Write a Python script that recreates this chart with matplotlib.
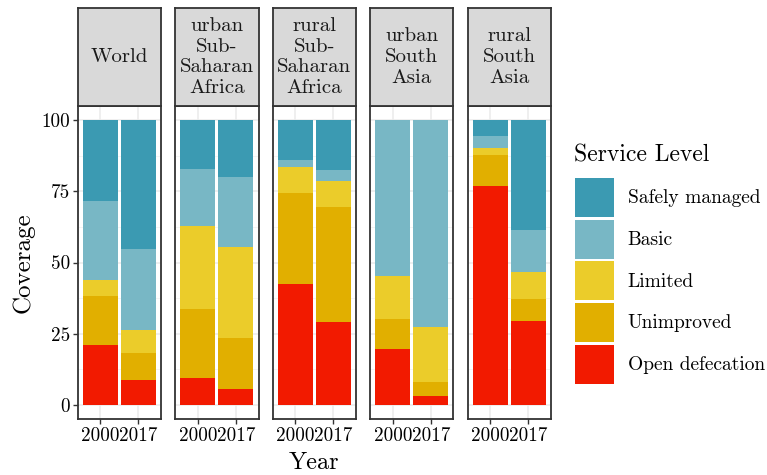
import matplotlib
matplotlib.use("Agg")
import matplotlib.pyplot as plt
from matplotlib.patches import Patch
import numpy as np

plt.rcParams['font.family'] = ['cmr10', 'DejaVu Serif']
plt.rcParams['axes.formatter.use_mathtext'] = True

regions = ['World', 'urban\nSub-\nSaharan\nAfrica', 'rural\nSub-\nSaharan\nAfrica',
           'urban\nSouth\nAsia', 'rural\nSouth\nAsia']
years = ['2000', '2017']
levels = ['Open defecation', 'Unimproved', 'Limited', 'Basic', 'Safely managed']
colors = ['#F21A00', '#E1AF00', '#EBCC2A', '#78B7C5', '#3B9AB2']

# coverage (%) per region, for 2000 and 2017
open_def = [[21.1, 8.8], [9.5, 5.6], [42.6, 29.2], [19.7, 3.2], [76.8, 29.6]]
unimproved = [[17.3, 9.5], [24.3, 18.0], [32.0, 40.2], [10.6, 4.9], [10.9, 7.7]]
limited = [[5.3, 8.1], [29.2, 31.7], [8.9, 9.1], [14.8, 19.4], [2.4, 9.5]]
basic = [[27.8, 28.5], [19.7, 24.6], [2.4, 3.9], [54.9, 72.5], [4.3, 14.5]]
safely = [[28.5, 45.1], [17.3, 20.1], [14.1, 17.6], [0.0, 0.0], [5.6, 38.7]]

series = [open_def, unimproved, limited, basic, safely]

W, H = 767, 475
fig = plt.figure(figsize=(W / 100, H / 100), dpi=100)

def px(x, y, w, h):
    return [x / W, 1 - (y + h) / H, w / W, h / H]

border = '#333333'
for i, reg in enumerate(regions):
    left = 77.5 + i * 97.5
    ax = fig.add_axes(px(left, 106, 83.5, 313))
    ax.set_facecolor('white')
    xs = np.arange(1, 3)
    bottom = np.zeros(2)
    for s, c in zip(series, colors):
        vals = np.array(s[i])
        ax.bar(xs, vals, width=0.92, bottom=bottom, color=c, linewidth=0, zorder=3)
        bottom += vals
    ax.set_xlim(0.4, 2.6)
    ax.set_ylim(-5, 105)
    ax.set_xticks(xs)
    ax.set_xticklabels(years)
    ax.set_yticks([0, 25, 50, 75, 100])
    ax.set_yticks([12.5, 37.5, 62.5, 87.5], minor=True)
    ax.grid(True, which='major', color='#EBEBEB', linewidth=1.1, zorder=0)
    ax.grid(True, which='minor', axis='y', color='#F2F2F2', linewidth=0.6, zorder=0)
    ax.tick_params(axis='both', which='major', length=3.5, width=1, color=border,
                   pad=2, labelsize=13.8, labelcolor='black')
    ax.tick_params(axis='both', which='minor', length=0)
    if i == 0:
        ax.set_yticklabels(['0', '25', '50', '75', '100'])
        ax.set_ylabel('Coverage', fontsize=18, labelpad=5)
    else:
        ax.tick_params(axis='y', which='major', length=0, labelleft=False)
    if i == 2:
        ax.set_xlabel('Year', fontsize=17.5, labelpad=5)
    for sp in ax.spines.values():
        sp.set_color(border)
        sp.set_linewidth(1.3)
        sp.set_zorder(5)

    sax = fig.add_axes(px(left, 8, 83.5, 98))
    sax.set_facecolor('#D9D9D9')
    sax.set_xticks([])
    sax.set_yticks([])
    for sp in sax.spines.values():
        sp.set_color(border)
        sp.set_linewidth(1.3)
    sax.text(0.5, 0.5, reg, ha='center', va='center', fontsize=15,
             color='#1A1A1A', transform=sax.transAxes, linespacing=1.2)

fig.text(574 / W, 1 - 155 / H, 'Service Level', fontsize=17, ha='left', va='center')
handles = [Patch(facecolor=c, edgecolor='none') for c in colors[::-1]]
leg = fig.legend(handles, levels[::-1], loc='upper left',
                 bbox_to_anchor=(575 / W, 1 - 178 / H), frameon=False,
                 fontsize=14, handlelength=2.0, handleheight=2.72, labelspacing=0.13,
                 handletextpad=0.7, borderaxespad=0, borderpad=0)

fig.savefig('out.png', dpi=100)
